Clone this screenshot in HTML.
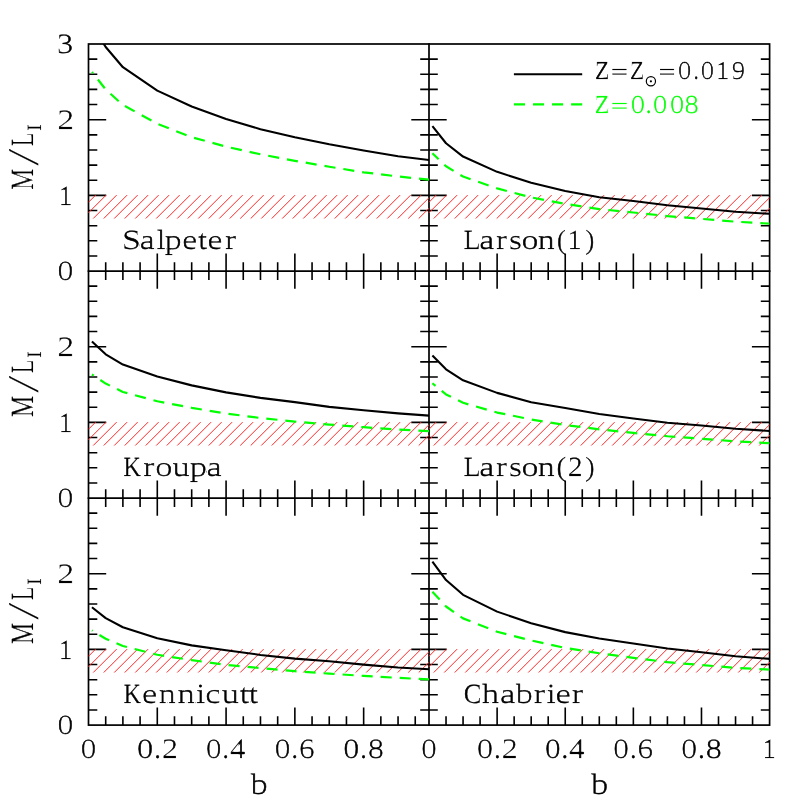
<!DOCTYPE html>
<html><head><meta charset="utf-8"><title>M/L vs b</title>
<style>
html,body{margin:0;padding:0;background:#fff;}
body{width:812px;height:812px;overflow:hidden;}
svg{display:block;}
text{font-family:"Liberation Serif",serif;text-rendering:geometricPrecision;}
</style></head><body>
<svg width="812" height="812" viewBox="0 0 812 812">
<rect width="812" height="812" fill="#fff"/>
<defs>
<clipPath id="cp00"><rect x="88.50" y="44.00" width="340.50" height="227.10"/></clipPath>
<clipPath id="cp01"><rect x="429.00" y="44.00" width="340.60" height="227.10"/></clipPath>
<clipPath id="cp10"><rect x="88.50" y="271.10" width="340.50" height="227.00"/></clipPath>
<clipPath id="cp11"><rect x="429.00" y="271.10" width="340.60" height="227.00"/></clipPath>
<clipPath id="cp20"><rect x="88.50" y="498.10" width="340.50" height="227.00"/></clipPath>
<clipPath id="cp21"><rect x="429.00" y="498.10" width="340.60" height="227.00"/></clipPath>
</defs>
<g stroke="#000" stroke-width="1.7" fill="none" stroke-linecap="square">
<rect x="88.5" y="44.0" width="681.10" height="681.10"/>
<path d="M429.0 44.0V725.1M88.5 271.1H769.6M88.5 498.1H769.6"/>
</g>
<path d="M105.70 271.1v-8.8M122.89 271.1v-8.8M140.09 271.1v-8.8M157.29 271.1v-17.7M174.48 271.1v-8.8M191.68 271.1v-8.8M208.88 271.1v-8.8M226.08 271.1v-17.7M243.27 271.1v-8.8M260.47 271.1v-8.8M277.67 271.1v-8.8M294.86 271.1v-17.7M312.06 271.1v-8.8M329.26 271.1v-8.8M346.45 271.1v-8.8M363.65 271.1v-17.7M380.85 271.1v-8.8M398.05 271.1v-8.8M415.24 271.1v-8.8M88.5 255.96h8.8M429.0 255.96h-8.8M88.5 240.82h8.8M429.0 240.82h-8.8M88.5 225.68h8.8M429.0 225.68h-8.8M88.5 210.54h8.8M429.0 210.54h-8.8M88.5 195.40h17.7M429.0 195.40h-17.7M88.5 180.26h8.8M429.0 180.26h-8.8M88.5 165.12h8.8M429.0 165.12h-8.8M88.5 149.98h8.8M429.0 149.98h-8.8M88.5 134.84h8.8M429.0 134.84h-8.8M88.5 119.70h17.7M429.0 119.70h-17.7M88.5 104.56h8.8M429.0 104.56h-8.8M88.5 89.42h8.8M429.0 89.42h-8.8M88.5 74.28h8.8M429.0 74.28h-8.8M88.5 59.14h8.8M429.0 59.14h-8.8M446.03 271.1v-8.8M463.06 271.1v-8.8M480.09 271.1v-8.8M497.12 271.1v-17.7M514.15 271.1v-8.8M531.18 271.1v-8.8M548.21 271.1v-8.8M565.24 271.1v-17.7M582.27 271.1v-8.8M599.30 271.1v-8.8M616.33 271.1v-8.8M633.36 271.1v-17.7M650.39 271.1v-8.8M667.42 271.1v-8.8M684.45 271.1v-8.8M701.48 271.1v-17.7M718.51 271.1v-8.8M735.54 271.1v-8.8M752.57 271.1v-8.8M429.0 255.96h8.8M769.6 255.96h-8.8M429.0 240.82h8.8M769.6 240.82h-8.8M429.0 225.68h8.8M769.6 225.68h-8.8M429.0 210.54h8.8M769.6 210.54h-8.8M429.0 195.40h17.7M769.6 195.40h-17.7M429.0 180.26h8.8M769.6 180.26h-8.8M429.0 165.12h8.8M769.6 165.12h-8.8M429.0 149.98h8.8M769.6 149.98h-8.8M429.0 134.84h8.8M769.6 134.84h-8.8M429.0 119.70h17.7M769.6 119.70h-17.7M429.0 104.56h8.8M769.6 104.56h-8.8M429.0 89.42h8.8M769.6 89.42h-8.8M429.0 74.28h8.8M769.6 74.28h-8.8M429.0 59.14h8.8M769.6 59.14h-8.8M105.70 498.1v-8.8M105.70 271.1v8.8M122.89 498.1v-8.8M122.89 271.1v8.8M140.09 498.1v-8.8M140.09 271.1v8.8M157.29 498.1v-17.7M157.29 271.1v17.7M174.48 498.1v-8.8M174.48 271.1v8.8M191.68 498.1v-8.8M191.68 271.1v8.8M208.88 498.1v-8.8M208.88 271.1v8.8M226.08 498.1v-17.7M226.08 271.1v17.7M243.27 498.1v-8.8M243.27 271.1v8.8M260.47 498.1v-8.8M260.47 271.1v8.8M277.67 498.1v-8.8M277.67 271.1v8.8M294.86 498.1v-17.7M294.86 271.1v17.7M312.06 498.1v-8.8M312.06 271.1v8.8M329.26 498.1v-8.8M329.26 271.1v8.8M346.45 498.1v-8.8M346.45 271.1v8.8M363.65 498.1v-17.7M363.65 271.1v17.7M380.85 498.1v-8.8M380.85 271.1v8.8M398.05 498.1v-8.8M398.05 271.1v8.8M415.24 498.1v-8.8M415.24 271.1v8.8M88.5 482.96h8.8M429.0 482.96h-8.8M88.5 467.82h8.8M429.0 467.82h-8.8M88.5 452.68h8.8M429.0 452.68h-8.8M88.5 437.54h8.8M429.0 437.54h-8.8M88.5 422.40h17.7M429.0 422.40h-17.7M88.5 407.26h8.8M429.0 407.26h-8.8M88.5 392.12h8.8M429.0 392.12h-8.8M88.5 376.98h8.8M429.0 376.98h-8.8M88.5 361.84h8.8M429.0 361.84h-8.8M88.5 346.70h17.7M429.0 346.70h-17.7M88.5 331.56h8.8M429.0 331.56h-8.8M88.5 316.42h8.8M429.0 316.42h-8.8M88.5 301.28h8.8M429.0 301.28h-8.8M88.5 286.14h8.8M429.0 286.14h-8.8M446.03 498.1v-8.8M446.03 271.1v8.8M463.06 498.1v-8.8M463.06 271.1v8.8M480.09 498.1v-8.8M480.09 271.1v8.8M497.12 498.1v-17.7M497.12 271.1v17.7M514.15 498.1v-8.8M514.15 271.1v8.8M531.18 498.1v-8.8M531.18 271.1v8.8M548.21 498.1v-8.8M548.21 271.1v8.8M565.24 498.1v-17.7M565.24 271.1v17.7M582.27 498.1v-8.8M582.27 271.1v8.8M599.30 498.1v-8.8M599.30 271.1v8.8M616.33 498.1v-8.8M616.33 271.1v8.8M633.36 498.1v-17.7M633.36 271.1v17.7M650.39 498.1v-8.8M650.39 271.1v8.8M667.42 498.1v-8.8M667.42 271.1v8.8M684.45 498.1v-8.8M684.45 271.1v8.8M701.48 498.1v-17.7M701.48 271.1v17.7M718.51 498.1v-8.8M718.51 271.1v8.8M735.54 498.1v-8.8M735.54 271.1v8.8M752.57 498.1v-8.8M752.57 271.1v8.8M429.0 482.96h8.8M769.6 482.96h-8.8M429.0 467.82h8.8M769.6 467.82h-8.8M429.0 452.68h8.8M769.6 452.68h-8.8M429.0 437.54h8.8M769.6 437.54h-8.8M429.0 422.40h17.7M769.6 422.40h-17.7M429.0 407.26h8.8M769.6 407.26h-8.8M429.0 392.12h8.8M769.6 392.12h-8.8M429.0 376.98h8.8M769.6 376.98h-8.8M429.0 361.84h8.8M769.6 361.84h-8.8M429.0 346.70h17.7M769.6 346.70h-17.7M429.0 331.56h8.8M769.6 331.56h-8.8M429.0 316.42h8.8M769.6 316.42h-8.8M429.0 301.28h8.8M769.6 301.28h-8.8M429.0 286.14h8.8M769.6 286.14h-8.8M105.70 725.1v-8.8M105.70 498.1v8.8M122.89 725.1v-8.8M122.89 498.1v8.8M140.09 725.1v-8.8M140.09 498.1v8.8M157.29 725.1v-17.7M157.29 498.1v17.7M174.48 725.1v-8.8M174.48 498.1v8.8M191.68 725.1v-8.8M191.68 498.1v8.8M208.88 725.1v-8.8M208.88 498.1v8.8M226.08 725.1v-17.7M226.08 498.1v17.7M243.27 725.1v-8.8M243.27 498.1v8.8M260.47 725.1v-8.8M260.47 498.1v8.8M277.67 725.1v-8.8M277.67 498.1v8.8M294.86 725.1v-17.7M294.86 498.1v17.7M312.06 725.1v-8.8M312.06 498.1v8.8M329.26 725.1v-8.8M329.26 498.1v8.8M346.45 725.1v-8.8M346.45 498.1v8.8M363.65 725.1v-17.7M363.65 498.1v17.7M380.85 725.1v-8.8M380.85 498.1v8.8M398.05 725.1v-8.8M398.05 498.1v8.8M415.24 725.1v-8.8M415.24 498.1v8.8M88.5 709.96h8.8M429.0 709.96h-8.8M88.5 694.82h8.8M429.0 694.82h-8.8M88.5 679.68h8.8M429.0 679.68h-8.8M88.5 664.54h8.8M429.0 664.54h-8.8M88.5 649.40h17.7M429.0 649.40h-17.7M88.5 634.26h8.8M429.0 634.26h-8.8M88.5 619.12h8.8M429.0 619.12h-8.8M88.5 603.98h8.8M429.0 603.98h-8.8M88.5 588.84h8.8M429.0 588.84h-8.8M88.5 573.70h17.7M429.0 573.70h-17.7M88.5 558.56h8.8M429.0 558.56h-8.8M88.5 543.42h8.8M429.0 543.42h-8.8M88.5 528.28h8.8M429.0 528.28h-8.8M88.5 513.14h8.8M429.0 513.14h-8.8M446.03 725.1v-8.8M446.03 498.1v8.8M463.06 725.1v-8.8M463.06 498.1v8.8M480.09 725.1v-8.8M480.09 498.1v8.8M497.12 725.1v-17.7M497.12 498.1v17.7M514.15 725.1v-8.8M514.15 498.1v8.8M531.18 725.1v-8.8M531.18 498.1v8.8M548.21 725.1v-8.8M548.21 498.1v8.8M565.24 725.1v-17.7M565.24 498.1v17.7M582.27 725.1v-8.8M582.27 498.1v8.8M599.30 725.1v-8.8M599.30 498.1v8.8M616.33 725.1v-8.8M616.33 498.1v8.8M633.36 725.1v-17.7M633.36 498.1v17.7M650.39 725.1v-8.8M650.39 498.1v8.8M667.42 725.1v-8.8M667.42 498.1v8.8M684.45 725.1v-8.8M684.45 498.1v8.8M701.48 725.1v-17.7M701.48 498.1v17.7M718.51 725.1v-8.8M718.51 498.1v8.8M735.54 725.1v-8.8M735.54 498.1v8.8M752.57 725.1v-8.8M752.57 498.1v8.8M429.0 709.96h8.8M769.6 709.96h-8.8M429.0 694.82h8.8M769.6 694.82h-8.8M429.0 679.68h8.8M769.6 679.68h-8.8M429.0 664.54h8.8M769.6 664.54h-8.8M429.0 649.40h17.7M769.6 649.40h-17.7M429.0 634.26h8.8M769.6 634.26h-8.8M429.0 619.12h8.8M769.6 619.12h-8.8M429.0 603.98h8.8M769.6 603.98h-8.8M429.0 588.84h8.8M769.6 588.84h-8.8M429.0 573.70h17.7M769.6 573.70h-17.7M429.0 558.56h8.8M769.6 558.56h-8.8M429.0 543.42h8.8M769.6 543.42h-8.8M429.0 528.28h8.8M769.6 528.28h-8.8M429.0 513.14h8.8M769.6 513.14h-8.8" stroke="#000" stroke-width="1.6" fill="none"/>
<path d="M88.50 202.25L95.65 195.10M88.50 212.75L106.15 195.10M93.24 218.51L116.65 195.10M103.74 218.51L127.15 195.10M114.24 218.51L137.65 195.10M124.74 218.51L148.15 195.10M135.24 218.51L158.65 195.10M145.74 218.51L169.15 195.10M156.24 218.51L179.65 195.10M166.74 218.51L190.15 195.10M177.24 218.51L200.65 195.10M187.74 218.51L211.15 195.10M198.24 218.51L221.65 195.10M208.74 218.51L232.15 195.10M219.24 218.51L242.65 195.10M229.74 218.51L253.15 195.10M240.24 218.51L263.65 195.10M250.74 218.51L274.15 195.10M261.24 218.51L284.65 195.10M271.74 218.51L295.15 195.10M282.24 218.51L305.65 195.10M292.74 218.51L316.15 195.10M303.24 218.51L326.65 195.10M313.74 218.51L337.15 195.10M324.24 218.51L347.65 195.10M334.74 218.51L358.15 195.10M345.24 218.51L368.65 195.10M355.74 218.51L379.15 195.10M366.24 218.51L389.65 195.10M376.74 218.51L400.15 195.10M387.24 218.51L410.65 195.10M397.74 218.51L421.15 195.10M408.24 218.51L429.00 197.75M418.74 218.51L429.00 208.25" stroke="#ff2a2a" stroke-width="1.0" fill="none"/>
<path d="M429.00 202.25L436.15 195.10M429.00 212.75L446.65 195.10M433.74 218.51L457.15 195.10M444.24 218.51L467.65 195.10M454.74 218.51L478.15 195.10M465.24 218.51L488.65 195.10M475.74 218.51L499.15 195.10M486.24 218.51L509.65 195.10M496.74 218.51L520.15 195.10M507.24 218.51L530.65 195.10M517.74 218.51L541.15 195.10M528.24 218.51L551.65 195.10M538.74 218.51L562.15 195.10M549.24 218.51L572.65 195.10M559.74 218.51L583.15 195.10M570.24 218.51L593.65 195.10M580.74 218.51L604.15 195.10M591.24 218.51L614.65 195.10M601.74 218.51L625.15 195.10M612.24 218.51L635.65 195.10M622.74 218.51L646.15 195.10M633.24 218.51L656.65 195.10M643.74 218.51L667.15 195.10M654.24 218.51L677.65 195.10M664.74 218.51L688.15 195.10M675.24 218.51L698.65 195.10M685.74 218.51L709.15 195.10M696.24 218.51L719.65 195.10M706.74 218.51L730.15 195.10M717.24 218.51L740.65 195.10M727.74 218.51L751.15 195.10M738.24 218.51L761.65 195.10M748.74 218.51L769.60 197.65M759.24 218.51L769.60 208.15" stroke="#ff2a2a" stroke-width="1.0" fill="none"/>
<path d="M88.50 429.25L95.65 422.10M88.50 439.75L106.15 422.10M93.24 445.51L116.65 422.10M103.74 445.51L127.15 422.10M114.24 445.51L137.65 422.10M124.74 445.51L148.15 422.10M135.24 445.51L158.65 422.10M145.74 445.51L169.15 422.10M156.24 445.51L179.65 422.10M166.74 445.51L190.15 422.10M177.24 445.51L200.65 422.10M187.74 445.51L211.15 422.10M198.24 445.51L221.65 422.10M208.74 445.51L232.15 422.10M219.24 445.51L242.65 422.10M229.74 445.51L253.15 422.10M240.24 445.51L263.65 422.10M250.74 445.51L274.15 422.10M261.24 445.51L284.65 422.10M271.74 445.51L295.15 422.10M282.24 445.51L305.65 422.10M292.74 445.51L316.15 422.10M303.24 445.51L326.65 422.10M313.74 445.51L337.15 422.10M324.24 445.51L347.65 422.10M334.74 445.51L358.15 422.10M345.24 445.51L368.65 422.10M355.74 445.51L379.15 422.10M366.24 445.51L389.65 422.10M376.74 445.51L400.15 422.10M387.24 445.51L410.65 422.10M397.74 445.51L421.15 422.10M408.24 445.51L429.00 424.75M418.74 445.51L429.00 435.25" stroke="#ff2a2a" stroke-width="1.0" fill="none"/>
<path d="M429.00 429.25L436.15 422.10M429.00 439.75L446.65 422.10M433.74 445.51L457.15 422.10M444.24 445.51L467.65 422.10M454.74 445.51L478.15 422.10M465.24 445.51L488.65 422.10M475.74 445.51L499.15 422.10M486.24 445.51L509.65 422.10M496.74 445.51L520.15 422.10M507.24 445.51L530.65 422.10M517.74 445.51L541.15 422.10M528.24 445.51L551.65 422.10M538.74 445.51L562.15 422.10M549.24 445.51L572.65 422.10M559.74 445.51L583.15 422.10M570.24 445.51L593.65 422.10M580.74 445.51L604.15 422.10M591.24 445.51L614.65 422.10M601.74 445.51L625.15 422.10M612.24 445.51L635.65 422.10M622.74 445.51L646.15 422.10M633.24 445.51L656.65 422.10M643.74 445.51L667.15 422.10M654.24 445.51L677.65 422.10M664.74 445.51L688.15 422.10M675.24 445.51L698.65 422.10M685.74 445.51L709.15 422.10M696.24 445.51L719.65 422.10M706.74 445.51L730.15 422.10M717.24 445.51L740.65 422.10M727.74 445.51L751.15 422.10M738.24 445.51L761.65 422.10M748.74 445.51L769.60 424.65M759.24 445.51L769.60 435.15" stroke="#ff2a2a" stroke-width="1.0" fill="none"/>
<path d="M88.50 656.25L95.65 649.10M88.50 666.75L106.15 649.10M93.24 672.51L116.65 649.10M103.74 672.51L127.15 649.10M114.24 672.51L137.65 649.10M124.74 672.51L148.15 649.10M135.24 672.51L158.65 649.10M145.74 672.51L169.15 649.10M156.24 672.51L179.65 649.10M166.74 672.51L190.15 649.10M177.24 672.51L200.65 649.10M187.74 672.51L211.15 649.10M198.24 672.51L221.65 649.10M208.74 672.51L232.15 649.10M219.24 672.51L242.65 649.10M229.74 672.51L253.15 649.10M240.24 672.51L263.65 649.10M250.74 672.51L274.15 649.10M261.24 672.51L284.65 649.10M271.74 672.51L295.15 649.10M282.24 672.51L305.65 649.10M292.74 672.51L316.15 649.10M303.24 672.51L326.65 649.10M313.74 672.51L337.15 649.10M324.24 672.51L347.65 649.10M334.74 672.51L358.15 649.10M345.24 672.51L368.65 649.10M355.74 672.51L379.15 649.10M366.24 672.51L389.65 649.10M376.74 672.51L400.15 649.10M387.24 672.51L410.65 649.10M397.74 672.51L421.15 649.10M408.24 672.51L429.00 651.75M418.74 672.51L429.00 662.25" stroke="#ff2a2a" stroke-width="1.0" fill="none"/>
<path d="M429.00 656.25L436.15 649.10M429.00 666.75L446.65 649.10M433.74 672.51L457.15 649.10M444.24 672.51L467.65 649.10M454.74 672.51L478.15 649.10M465.24 672.51L488.65 649.10M475.74 672.51L499.15 649.10M486.24 672.51L509.65 649.10M496.74 672.51L520.15 649.10M507.24 672.51L530.65 649.10M517.74 672.51L541.15 649.10M528.24 672.51L551.65 649.10M538.74 672.51L562.15 649.10M549.24 672.51L572.65 649.10M559.74 672.51L583.15 649.10M570.24 672.51L593.65 649.10M580.74 672.51L604.15 649.10M591.24 672.51L614.65 649.10M601.74 672.51L625.15 649.10M612.24 672.51L635.65 649.10M622.74 672.51L646.15 649.10M633.24 672.51L656.65 649.10M643.74 672.51L667.15 649.10M654.24 672.51L677.65 649.10M664.74 672.51L688.15 649.10M675.24 672.51L698.65 649.10M685.74 672.51L709.15 649.10M696.24 672.51L719.65 649.10M706.74 672.51L730.15 649.10M717.24 672.51L740.65 649.10M727.74 672.51L751.15 649.10M738.24 672.51L761.65 649.10M748.74 672.51L769.60 651.65M759.24 672.51L769.60 662.15" stroke="#ff2a2a" stroke-width="1.0" fill="none"/>
<g clip-path="url(#cp00)" fill="none" stroke-linejoin="round">
<polyline points="91.94,25.08 105.70,47.03 122.89,67.23 157.29,90.66 191.68,106.56 226.08,118.92 260.47,129.18 294.86,137.21 329.26,144.32 363.65,150.49 398.05,156.28 432.44,160.36" stroke="#000" stroke-width="2.1"/>
<polyline points="91.94,72.01 105.70,89.42 122.89,104.97 157.29,123.74 191.68,137.18 226.08,146.64 260.47,154.30 294.86,160.83 329.26,166.76 363.65,172.30 398.05,176.51 432.44,179.99" stroke="#0f0" stroke-width="2.2" stroke-dasharray="11.1 7.97" stroke-dashoffset="9.5"/>
</g>
<g clip-path="url(#cp01)" fill="none" stroke-linejoin="round">
<polyline points="432.41,126.06 446.03,143.24 463.06,156.57 497.12,171.86 531.18,182.76 565.24,191.09 599.30,197.29 633.36,201.08 667.42,205.24 701.48,208.50 735.54,211.68 769.60,213.80" stroke="#000" stroke-width="2.1"/>
<polyline points="432.41,153.24 446.03,166.26 463.06,176.55 497.12,188.36 531.18,197.37 565.24,203.88 599.30,209.10 633.36,212.51 667.42,216.07 701.48,218.87 735.54,221.67 769.60,223.71" stroke="#0f0" stroke-width="2.2" stroke-dasharray="11.1 7.97" stroke-dashoffset="2.5"/>
</g>
<g clip-path="url(#cp10)" fill="none" stroke-linejoin="round">
<polyline points="91.94,341.40 105.70,354.35 122.89,364.60 157.29,376.49 191.68,385.36 226.08,392.39 260.47,397.89 294.86,402.13 329.26,406.84 363.65,410.26 398.05,413.40 432.44,415.82" stroke="#000" stroke-width="2.1"/>
<polyline points="91.94,374.48 105.70,383.57 122.89,391.95 157.29,401.25 191.68,407.79 226.08,413.53 260.47,417.99 294.86,421.62 329.26,424.57 363.65,427.16 398.05,429.60 432.44,431.26" stroke="#0f0" stroke-width="2.2" stroke-dasharray="11.1 7.97" stroke-dashoffset="9.0"/>
</g>
<g clip-path="url(#cp11)" fill="none" stroke-linejoin="round">
<polyline points="432.41,355.48 446.03,369.26 463.06,380.31 497.12,392.88 531.18,402.19 565.24,408.09 599.30,414.00 633.36,418.46 667.42,422.70 701.48,425.50 735.54,428.76 769.60,430.95" stroke="#000" stroke-width="2.1"/>
<polyline points="432.41,383.26 446.03,394.39 463.06,402.79 497.12,412.56 531.18,419.45 565.24,425.05 599.30,429.29 633.36,432.92 667.42,436.25 701.48,438.75 735.54,441.33 769.60,443.22" stroke="#0f0" stroke-width="2.2" stroke-dasharray="11.1 7.97" stroke-dashoffset="7.1"/>
</g>
<g clip-path="url(#cp20)" fill="none" stroke-linejoin="round">
<polyline points="91.94,607.24 105.70,618.06 122.89,627.24 157.29,638.26 191.68,645.35 226.08,650.24 260.47,654.92 294.86,658.59 329.26,661.31 363.65,664.64 398.05,667.46 432.44,669.50" stroke="#000" stroke-width="2.1"/>
<polyline points="91.94,630.40 105.70,638.80 122.89,645.96 157.29,654.78 191.68,660.11 226.08,664.85 260.47,668.13 294.86,671.21 329.26,673.65 363.65,675.91 398.05,677.88 432.44,679.62" stroke="#0f0" stroke-width="2.2" stroke-dasharray="11.1 7.97" stroke-dashoffset="10.3"/>
</g>
<g clip-path="url(#cp21)" fill="none" stroke-linejoin="round">
<polyline points="432.41,561.59 446.03,580.06 463.06,594.82 497.12,611.63 531.18,623.21 565.24,632.14 599.30,638.57 633.36,643.57 667.42,648.57 701.48,652.28 735.54,656.29 769.60,658.86" stroke="#000" stroke-width="2.1"/>
<polyline points="432.41,591.87 446.03,606.48 463.06,618.36 497.12,631.76 531.18,640.47 565.24,647.96 599.30,653.26 633.36,657.80 667.42,662.19 701.48,665.07 735.54,667.80 769.60,669.61" stroke="#0f0" stroke-width="2.2" stroke-dasharray="11.1 7.97" stroke-dashoffset="0.5"/>
</g>
<mask id="t1"><text transform="translate(0.75 248.85) scale(1.2590 1)" x="96.61 110.85 124.02 130.67 144.53 157.13 164.71 178.58" font-size="27.8" fill="#fff" stroke="#fff" stroke-width="0.5">Salpeter</text></mask><g mask="url(#t1)"><text transform="translate(-0.75 248.85) scale(1.2590 1)" x="96.61 110.85 124.02 130.67 144.53 157.13 164.71 178.58" font-size="27.8" fill="#000" stroke="#000" stroke-width="0.5">Salpeter</text></g>
<mask id="t2"><text transform="translate(0.47 248.85) scale(1.0130 1)" x="457.52" font-size="27.8" fill="#fff" stroke="#fff" stroke-width="0.5">L</text></mask><g mask="url(#t2)"><text transform="translate(-0.47 248.85) scale(1.0130 1)" x="457.52" font-size="27.8" fill="#000" stroke="#000" stroke-width="0.5">L</text></g>
<mask id="t3"><text transform="translate(0.73 248.85) scale(1.2439 1)" x="385.19 398.61 409.01 419.16 432.23" font-size="27.8" fill="#fff" stroke="#fff" stroke-width="0.5">arson</text></mask><g mask="url(#t3)"><text transform="translate(-0.73 248.85) scale(1.2439 1)" x="385.19 398.61 409.01 419.16 432.23" font-size="27.8" fill="#000" stroke="#000" stroke-width="0.5">arson</text></g>
<mask id="t4"><text transform="translate(0.47 248.85) scale(1.0180 1)" x="546.84 557.55 574.86" font-size="27.8" fill="#fff" stroke="#fff" stroke-width="0.5">(1)</text></mask><g mask="url(#t4)"><text transform="translate(-0.47 248.85) scale(1.0180 1)" x="546.84 557.55 574.86" font-size="27.8" fill="#000" stroke="#000" stroke-width="0.5">(1)</text></g>
<mask id="t5"><text transform="translate(0.30 475.95) scale(0.8741 1)" x="141.17" font-size="27.8" fill="#fff" stroke="#fff" stroke-width="0.5">K</text></mask><g mask="url(#t5)"><text transform="translate(-0.30 475.95) scale(0.8741 1)" x="141.17" font-size="27.8" fill="#000" stroke="#000" stroke-width="0.5">K</text></g>
<mask id="t6"><text transform="translate(0.78 475.95) scale(1.2799 1)" x="111.79 121.15 134.52 148.03 161.16" font-size="27.8" fill="#fff" stroke="#fff" stroke-width="0.5">roupa</text></mask><g mask="url(#t6)"><text transform="translate(-0.78 475.95) scale(1.2799 1)" x="111.79 121.15 134.52 148.03 161.16" font-size="27.8" fill="#000" stroke="#000" stroke-width="0.5">roupa</text></g>
<mask id="t7"><text transform="translate(0.47 475.95) scale(1.0130 1)" x="457.52" font-size="27.8" fill="#fff" stroke="#fff" stroke-width="0.5">L</text></mask><g mask="url(#t7)"><text transform="translate(-0.47 475.95) scale(1.0130 1)" x="457.52" font-size="27.8" fill="#000" stroke="#000" stroke-width="0.5">L</text></g>
<mask id="t8"><text transform="translate(0.73 475.95) scale(1.2439 1)" x="385.19 398.61 409.01 419.16 432.23" font-size="27.8" fill="#fff" stroke="#fff" stroke-width="0.5">arson</text></mask><g mask="url(#t8)"><text transform="translate(-0.73 475.95) scale(1.2439 1)" x="385.19 398.61 409.01 419.16 432.23" font-size="27.8" fill="#000" stroke="#000" stroke-width="0.5">arson</text></g>
<mask id="t9"><text transform="translate(0.57 475.95) scale(1.1013 1)" x="505.11 515.41 531.04" font-size="27.8" fill="#fff" stroke="#fff" stroke-width="0.5">(2)</text></mask><g mask="url(#t9)"><text transform="translate(-0.57 475.95) scale(1.1013 1)" x="505.11 515.41 531.04" font-size="27.8" fill="#000" stroke="#000" stroke-width="0.5">(2)</text></g>
<mask id="t10"><text transform="translate(0.29 702.95) scale(0.8636 1)" x="143.13" font-size="27.8" fill="#fff" stroke="#fff" stroke-width="0.5">K</text></mask><g mask="url(#t10)"><text transform="translate(-0.29 702.95) scale(0.8636 1)" x="143.13" font-size="27.8" fill="#000" stroke="#000" stroke-width="0.5">K</text></g>
<mask id="t11"><text transform="translate(0.78 702.95) scale(1.2822 1)" x="110.56 123.50 138.32 152.60 159.93 172.76 186.81 193.87" font-size="27.8" fill="#fff" stroke="#fff" stroke-width="0.5">ennicutt</text></mask><g mask="url(#t11)"><text transform="translate(-0.78 702.95) scale(1.2822 1)" x="110.56 123.50 138.32 152.60 159.93 172.76 186.81 193.87" font-size="27.8" fill="#000" stroke="#000" stroke-width="0.5">ennicutt</text></g>
<mask id="t12"><text transform="translate(0.40 702.95) scale(0.9579 1)" x="484.09" font-size="27.8" fill="#fff" stroke="#fff" stroke-width="0.5">C</text></mask><g mask="url(#t12)"><text transform="translate(-0.40 702.95) scale(0.9579 1)" x="484.09" font-size="27.8" fill="#000" stroke="#000" stroke-width="0.5">C</text></g>
<mask id="t13"><text transform="translate(0.79 702.95) scale(1.2878 1)" x="373.91 388.01 400.18 414.28 424.22 431.19 443.82" font-size="27.8" fill="#fff" stroke="#fff" stroke-width="0.5">habrier</text></mask><g mask="url(#t13)"><text transform="translate(-0.79 702.95) scale(1.2878 1)" x="373.91 388.01 400.18 414.28 424.22 431.19 443.82" font-size="27.8" fill="#000" stroke="#000" stroke-width="0.5">habrier</text></g>
<mask id="t14"><text transform="translate(81.18 757.70) scale(1.1460 1)" font-size="28.0" fill="#fff" stroke="#fff" stroke-width="0.5">0</text></mask><g mask="url(#t14)"><text transform="translate(79.78 757.70) scale(1.1460 1)" font-size="28.0" fill="#000" stroke="#000" stroke-width="0.5">0</text></g>
<mask id="t15"><text transform="translate(137.58 757.70) scale(1.1825 1)" font-size="28.0" fill="#fff" stroke="#fff" stroke-width="0.5">0.2</text></mask><g mask="url(#t15)"><text transform="translate(136.18 757.70) scale(1.1825 1)" font-size="28.0" fill="#000" stroke="#000" stroke-width="0.5">0.2</text></g>
<mask id="t16"><text transform="translate(206.41 757.70) scale(1.1434 1)" font-size="28.0" fill="#fff" stroke="#fff" stroke-width="0.5">0.4</text></mask><g mask="url(#t16)"><text transform="translate(205.01 757.70) scale(1.1434 1)" font-size="28.0" fill="#000" stroke="#000" stroke-width="0.5">0.4</text></g>
<mask id="t17"><text transform="translate(275.18 757.70) scale(1.1571 1)" font-size="28.0" fill="#fff" stroke="#fff" stroke-width="0.5">0.6</text></mask><g mask="url(#t17)"><text transform="translate(273.78 757.70) scale(1.1571 1)" font-size="28.0" fill="#000" stroke="#000" stroke-width="0.5">0.6</text></g>
<mask id="t18"><text transform="translate(343.85 757.70) scale(1.1714 1)" font-size="28.0" fill="#fff" stroke="#fff" stroke-width="0.5">0.8</text></mask><g mask="url(#t18)"><text transform="translate(342.45 757.70) scale(1.1714 1)" font-size="28.0" fill="#000" stroke="#000" stroke-width="0.5">0.8</text></g>
<mask id="t19"><text transform="translate(250.90 793.90) scale(1.2027 1)" font-size="29.7" fill="#fff" stroke="#fff" stroke-width="0.5">b</text></mask><g mask="url(#t19)"><text transform="translate(249.50 793.90) scale(1.2027 1)" font-size="29.7" fill="#000" stroke="#000" stroke-width="0.5">b</text></g>
<mask id="t20"><text transform="translate(421.68 757.70) scale(1.1460 1)" font-size="28.0" fill="#fff" stroke="#fff" stroke-width="0.5">0</text></mask><g mask="url(#t20)"><text transform="translate(420.28 757.70) scale(1.1460 1)" font-size="28.0" fill="#000" stroke="#000" stroke-width="0.5">0</text></g>
<mask id="t21"><text transform="translate(477.41 757.70) scale(1.1825 1)" font-size="28.0" fill="#fff" stroke="#fff" stroke-width="0.5">0.2</text></mask><g mask="url(#t21)"><text transform="translate(476.01 757.70) scale(1.1825 1)" font-size="28.0" fill="#000" stroke="#000" stroke-width="0.5">0.2</text></g>
<mask id="t22"><text transform="translate(545.57 757.70) scale(1.1434 1)" font-size="28.0" fill="#fff" stroke="#fff" stroke-width="0.5">0.4</text></mask><g mask="url(#t22)"><text transform="translate(544.17 757.70) scale(1.1434 1)" font-size="28.0" fill="#000" stroke="#000" stroke-width="0.5">0.4</text></g>
<mask id="t23"><text transform="translate(613.68 757.70) scale(1.1571 1)" font-size="28.0" fill="#fff" stroke="#fff" stroke-width="0.5">0.6</text></mask><g mask="url(#t23)"><text transform="translate(612.28 757.70) scale(1.1571 1)" font-size="28.0" fill="#000" stroke="#000" stroke-width="0.5">0.6</text></g>
<mask id="t24"><text transform="translate(681.68 757.70) scale(1.1714 1)" font-size="28.0" fill="#fff" stroke="#fff" stroke-width="0.5">0.8</text></mask><g mask="url(#t24)"><text transform="translate(680.28 757.70) scale(1.1714 1)" font-size="28.0" fill="#000" stroke="#000" stroke-width="0.5">0.8</text></g>
<mask id="t25"><text transform="translate(762.73 757.70) scale(1.0246 1)" font-size="28.0" fill="#fff" stroke="#fff" stroke-width="0.5">1</text></mask><g mask="url(#t25)"><text transform="translate(761.33 757.70) scale(1.0246 1)" font-size="28.0" fill="#000" stroke="#000" stroke-width="0.5">1</text></g>
<mask id="t26"><text transform="translate(591.45 793.90) scale(1.2027 1)" font-size="29.7" fill="#fff" stroke="#fff" stroke-width="0.5">b</text></mask><g mask="url(#t26)"><text transform="translate(590.05 793.90) scale(1.2027 1)" font-size="29.7" fill="#000" stroke="#000" stroke-width="0.5">b</text></g>
<mask id="t27"><text transform="translate(57.95 280.20) scale(1.1713 1)" font-size="28.0" fill="#fff" stroke="#fff" stroke-width="0.5">0</text></mask><g mask="url(#t27)"><text transform="translate(56.55 280.20) scale(1.1713 1)" font-size="28.0" fill="#000" stroke="#000" stroke-width="0.5">0</text></g>
<mask id="t28"><text transform="translate(59.20 204.50) scale(1.0145 1)" font-size="28.0" fill="#fff" stroke="#fff" stroke-width="0.5">1</text></mask><g mask="url(#t28)"><text transform="translate(57.80 204.50) scale(1.0145 1)" font-size="28.0" fill="#000" stroke="#000" stroke-width="0.5">1</text></g>
<mask id="t29"><text transform="translate(57.67 128.80) scale(1.2473 1)" font-size="28.0" fill="#fff" stroke="#fff" stroke-width="0.5">2</text></mask><g mask="url(#t29)"><text transform="translate(56.27 128.80) scale(1.2473 1)" font-size="28.0" fill="#000" stroke="#000" stroke-width="0.5">2</text></g>
<mask id="t30"><text transform="translate(57.62 53.10) scale(1.1801 1)" font-size="28.0" fill="#fff" stroke="#fff" stroke-width="0.5">3</text></mask><g mask="url(#t30)"><text transform="translate(56.22 53.10) scale(1.1801 1)" font-size="28.0" fill="#000" stroke="#000" stroke-width="0.5">3</text></g>
<mask id="t31"><text transform="translate(57.95 507.20) scale(1.1713 1)" font-size="28.0" fill="#fff" stroke="#fff" stroke-width="0.5">0</text></mask><g mask="url(#t31)"><text transform="translate(56.55 507.20) scale(1.1713 1)" font-size="28.0" fill="#000" stroke="#000" stroke-width="0.5">0</text></g>
<mask id="t32"><text transform="translate(59.20 431.50) scale(1.0145 1)" font-size="28.0" fill="#fff" stroke="#fff" stroke-width="0.5">1</text></mask><g mask="url(#t32)"><text transform="translate(57.80 431.50) scale(1.0145 1)" font-size="28.0" fill="#000" stroke="#000" stroke-width="0.5">1</text></g>
<mask id="t33"><text transform="translate(57.67 355.80) scale(1.2473 1)" font-size="28.0" fill="#fff" stroke="#fff" stroke-width="0.5">2</text></mask><g mask="url(#t33)"><text transform="translate(56.27 355.80) scale(1.2473 1)" font-size="28.0" fill="#000" stroke="#000" stroke-width="0.5">2</text></g>
<mask id="t34"><text transform="translate(57.95 734.20) scale(1.1713 1)" font-size="28.0" fill="#fff" stroke="#fff" stroke-width="0.5">0</text></mask><g mask="url(#t34)"><text transform="translate(56.55 734.20) scale(1.1713 1)" font-size="28.0" fill="#000" stroke="#000" stroke-width="0.5">0</text></g>
<mask id="t35"><text transform="translate(59.20 658.50) scale(1.0145 1)" font-size="28.0" fill="#fff" stroke="#fff" stroke-width="0.5">1</text></mask><g mask="url(#t35)"><text transform="translate(57.80 658.50) scale(1.0145 1)" font-size="28.0" fill="#000" stroke="#000" stroke-width="0.5">1</text></g>
<mask id="t36"><text transform="translate(57.67 582.80) scale(1.2473 1)" font-size="28.0" fill="#fff" stroke="#fff" stroke-width="0.5">2</text></mask><g mask="url(#t36)"><text transform="translate(56.27 582.80) scale(1.2473 1)" font-size="28.0" fill="#000" stroke="#000" stroke-width="0.5">2</text></g>
<g transform="translate(32.7 157.55) rotate(-90)">
<mask id="t37"><text transform="translate(-32.04 0.00) scale(0.7428 1)" font-size="32.4" fill="#fff" stroke="#fff" stroke-width="0.4">M</text></mask><g mask="url(#t37)"><text transform="translate(-32.94 0.00) scale(0.7428 1)" font-size="32.4" fill="#000" stroke="#000" stroke-width="0.4">M</text></g>
<mask id="t38"><text transform="translate(-7.85 4.90) scale(1.4792 1)" font-size="43.8" fill="#fff" stroke="#fff" stroke-width="0.1">/</text></mask><g mask="url(#t38)"><text transform="translate(-9.35 4.90) scale(1.4792 1)" font-size="43.8" fill="#000" stroke="#000" stroke-width="0.1">/</text></g>
<mask id="t39"><text transform="translate(11.80 0.00) scale(0.6918 1)" font-size="32.4" fill="#fff" stroke="#fff" stroke-width="0.4">L</text></mask><g mask="url(#t39)"><text transform="translate(10.90 0.00) scale(0.6918 1)" font-size="32.4" fill="#000" stroke="#000" stroke-width="0.4">L</text></g>
<mask id="t40"><text transform="translate(26.89 8.30) scale(0.9411 1)" font-size="20.3" fill="#fff" stroke="#fff" stroke-width="0.35">I</text></mask><g mask="url(#t40)"><text transform="translate(26.73 8.30) scale(0.9411 1)" font-size="20.3" fill="#000" stroke="#000" stroke-width="0.35">I</text></g>
</g>
<g transform="translate(32.7 384.60) rotate(-90)">
<mask id="t41"><text transform="translate(-32.04 0.00) scale(0.7428 1)" font-size="32.4" fill="#fff" stroke="#fff" stroke-width="0.4">M</text></mask><g mask="url(#t41)"><text transform="translate(-32.94 0.00) scale(0.7428 1)" font-size="32.4" fill="#000" stroke="#000" stroke-width="0.4">M</text></g>
<mask id="t42"><text transform="translate(-7.85 4.90) scale(1.4792 1)" font-size="43.8" fill="#fff" stroke="#fff" stroke-width="0.1">/</text></mask><g mask="url(#t42)"><text transform="translate(-9.35 4.90) scale(1.4792 1)" font-size="43.8" fill="#000" stroke="#000" stroke-width="0.1">/</text></g>
<mask id="t43"><text transform="translate(11.80 0.00) scale(0.6918 1)" font-size="32.4" fill="#fff" stroke="#fff" stroke-width="0.4">L</text></mask><g mask="url(#t43)"><text transform="translate(10.90 0.00) scale(0.6918 1)" font-size="32.4" fill="#000" stroke="#000" stroke-width="0.4">L</text></g>
<mask id="t44"><text transform="translate(26.89 8.30) scale(0.9411 1)" font-size="20.3" fill="#fff" stroke="#fff" stroke-width="0.35">I</text></mask><g mask="url(#t44)"><text transform="translate(26.73 8.30) scale(0.9411 1)" font-size="20.3" fill="#000" stroke="#000" stroke-width="0.35">I</text></g>
</g>
<g transform="translate(32.7 611.60) rotate(-90)">
<mask id="t45"><text transform="translate(-32.04 0.00) scale(0.7428 1)" font-size="32.4" fill="#fff" stroke="#fff" stroke-width="0.4">M</text></mask><g mask="url(#t45)"><text transform="translate(-32.94 0.00) scale(0.7428 1)" font-size="32.4" fill="#000" stroke="#000" stroke-width="0.4">M</text></g>
<mask id="t46"><text transform="translate(-7.85 4.90) scale(1.4792 1)" font-size="43.8" fill="#fff" stroke="#fff" stroke-width="0.1">/</text></mask><g mask="url(#t46)"><text transform="translate(-9.35 4.90) scale(1.4792 1)" font-size="43.8" fill="#000" stroke="#000" stroke-width="0.1">/</text></g>
<mask id="t47"><text transform="translate(11.80 0.00) scale(0.6918 1)" font-size="32.4" fill="#fff" stroke="#fff" stroke-width="0.4">L</text></mask><g mask="url(#t47)"><text transform="translate(10.90 0.00) scale(0.6918 1)" font-size="32.4" fill="#000" stroke="#000" stroke-width="0.4">L</text></g>
<mask id="t48"><text transform="translate(26.89 8.30) scale(0.9411 1)" font-size="20.3" fill="#fff" stroke="#fff" stroke-width="0.35">I</text></mask><g mask="url(#t48)"><text transform="translate(26.73 8.30) scale(0.9411 1)" font-size="20.3" fill="#000" stroke="#000" stroke-width="0.35">I</text></g>
</g>
<path d="M513.9 74.2H582.2" stroke="#000" stroke-width="2.1"/>
<path d="M513.9 104.4H582.2" stroke="#0f0" stroke-width="2.2" stroke-dasharray="11.1 7.97"/>
<mask id="t49"><text transform="translate(595.33 78.90) scale(0.9455 1)" font-size="25.8" fill="#fff" stroke="#fff" stroke-width="0.5">Z</text></mask><g mask="url(#t49)"><text transform="translate(594.13 78.90) scale(0.9455 1)" font-size="25.8" fill="#000" stroke="#000" stroke-width="0.5">Z</text></g>
<mask id="t50"><text transform="translate(611.24 78.90) scale(1.2161 0.85)" font-size="25.8" fill="#fff" stroke="#fff" stroke-width="0.5">=</text></mask><g mask="url(#t50)"><text transform="translate(610.04 78.90) scale(1.2161 0.85)" font-size="25.8" fill="#000" stroke="#000" stroke-width="0.5">=</text></g>
<mask id="t51"><text transform="translate(630.22 78.90) scale(0.9532 1)" font-size="25.8" fill="#fff" stroke="#fff" stroke-width="0.5">Z</text></mask><g mask="url(#t51)"><text transform="translate(629.02 78.90) scale(0.9532 1)" font-size="25.8" fill="#000" stroke="#000" stroke-width="0.5">Z</text></g>
<mask id="t52"><text transform="translate(658.63 78.90) scale(1.2244 0.85)" font-size="25.8" fill="#fff" stroke="#fff" stroke-width="0.5">=</text></mask><g mask="url(#t52)"><text transform="translate(657.43 78.90) scale(1.2244 0.85)" font-size="25.8" fill="#000" stroke="#000" stroke-width="0.5">=</text></g>
<mask id="t53"><text transform="translate(0.75 78.90) scale(1.0753 1)" x="630.27 644.14 651.42 665.67 680.23" font-size="25.8" fill="#fff" stroke="#fff" stroke-width="0.5">0.019</text></mask><g mask="url(#t53)"><text transform="translate(-0.75 78.90) scale(1.0753 1)" x="630.27 644.14 651.42 665.67 680.23" font-size="25.8" fill="#000" stroke="#000" stroke-width="0.5">0.019</text></g>
<circle cx="650.9" cy="81.3" r="4.6" fill="none" stroke="#000" stroke-width="1.2"/><circle cx="650.9" cy="81.3" r="1.1" fill="#000"/>
<mask id="t54"><text transform="translate(594.99 113.05) scale(0.9837 1)" font-size="25.8" fill="#fff" stroke="#fff" stroke-width="0.5">Z</text></mask><g mask="url(#t54)"><text transform="translate(593.79 113.05) scale(0.9837 1)" font-size="25.8" fill="#0f0" stroke="#0f0" stroke-width="0.5">Z</text></g>
<mask id="t55"><text transform="translate(611.23 113.05) scale(1.2244 0.85)" font-size="25.8" fill="#fff" stroke="#fff" stroke-width="0.5">=</text></mask><g mask="url(#t55)"><text transform="translate(610.03 113.05) scale(1.2244 0.85)" font-size="25.8" fill="#0f0" stroke="#0f0" stroke-width="0.5">=</text></g>
<mask id="t56"><text transform="translate(0.75 113.05) scale(1.1435 1)" x="551.42 564.09 570.88 585.74 598.34" font-size="25.8" fill="#fff" stroke="#fff" stroke-width="0.5">0.008</text></mask><g mask="url(#t56)"><text transform="translate(-0.75 113.05) scale(1.1435 1)" x="551.42 564.09 570.88 585.74 598.34" font-size="25.8" fill="#0f0" stroke="#0f0" stroke-width="0.5">0.008</text></g>
</svg>
</body></html>
